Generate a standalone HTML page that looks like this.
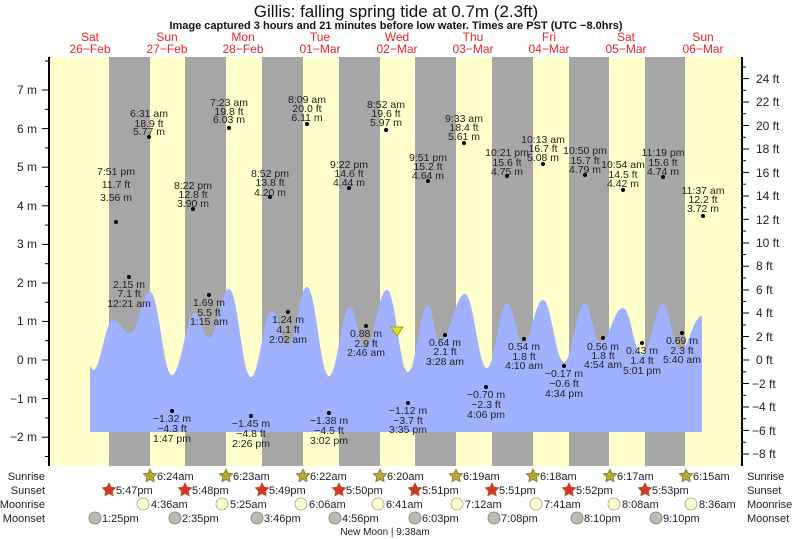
<!DOCTYPE html>
<html><head><meta charset="utf-8"><style>
html,body{margin:0;padding:0;background:#fff;}
svg{display:block;font-family:"Liberation Sans",sans-serif;}
</style></head><body>
<svg width="793" height="539" viewBox="0 0 793 539" xmlns="http://www.w3.org/2000/svg">
<text x="396" y="17" font-size="17" text-anchor="middle" fill="#111">Gillis: falling  spring tide at 0.7m (2.3ft)</text>
<text x="396" y="29" font-size="11" font-weight="bold" text-anchor="middle" fill="#111">Image captured 3 hours and 21 minutes before low water. Times are PST (UTC −8.0hrs)</text>
<g font-size="12" fill="#ee2222" text-anchor="middle">
<text x="90" y="41">Sat</text><text x="90" y="53">26−Feb</text>
<text x="167" y="41">Sun</text><text x="167" y="53">27−Feb</text>
<text x="243" y="41">Mon</text><text x="243" y="53">28−Feb</text>
<text x="320" y="41">Tue</text><text x="320" y="53">01−Mar</text>
<text x="397" y="41">Wed</text><text x="397" y="53">02−Mar</text>
<text x="473" y="41">Thu</text><text x="473" y="53">03−Mar</text>
<text x="549" y="41">Fri</text><text x="549" y="53">04−Mar</text>
<text x="626" y="41">Sat</text><text x="626" y="53">05−Mar</text>
<text x="703" y="41">Sun</text><text x="703" y="53">06−Mar</text>
</g>
<rect x="49" y="57" width="693" height="409" fill="#ffffcc"/>
<g fill="#a6a6a6">
<rect x="109" y="57" width="41" height="409"/><rect x="185" y="57" width="41" height="409"/>
<rect x="262" y="57" width="41" height="409"/><rect x="339" y="57" width="41" height="409"/>
<rect x="415" y="57" width="41" height="409"/><rect x="492" y="57" width="41" height="409"/>
<rect x="569" y="57" width="40" height="409"/><rect x="645" y="57" width="40" height="409"/>
</g>
<path fill="#a0b2ff" d="M90,366 L93,370 C101,370 105,320 113,320 C119.8,320 123.2,333 130,333 C138,333 142,292 150,292 C158.8,292 163.2,375 172,375 C181.2,375 185.8,313 195,313 C200.6,313 203.4,338 209,338 C217,338 221,289 229,289 C237.8,289 242.2,377 251,377 C259.4,377 263.6,311 272,311 C278.4,311 281.6,345 288,345 C295.6,345 299.4,287 307,287 C315.8,287 320.2,376 329,376 C337.4,376 341.6,307 350,307 C356,307 359,348 365,348 C373.8,348 378.2,290 387,290 C395.4,290 399.6,372 408,372 C416,372 420,305 428,305 C432.8,305 435.2,342 440,342 C450,342 455,294 465,294 C473.8,294 478.2,368 487,368 C495,368 499,303 507,303 C513.4,303 516.6,343 523,343 C531,343 535,300 543,300 C551.4,300 555.6,362 564,362 C572.4,362 576.6,303 585,303 C591,303 594,342 600,342 C609.2,342 613.8,308 623,308 C630.6,308 634.4,355 642,355 C650.4,355 654.6,304 663,304 C669.8,304 673.2,350 680,350 C688.8,350 693.2,316 702,316 L702,432 L90,432 Z"/>
<polygon points="391,327 403,327 397,336" fill="#dddd22" stroke="#999900" stroke-width="0.8"/>
<g stroke="#000">
<line x1="49" y1="57" x2="49" y2="466" stroke-width="2"/>
<line x1="742" y1="57" x2="742" y2="466" stroke-width="2"/>
<line x1="42" y1="90" x2="49" y2="90"/><line x1="42" y1="128.6" x2="49" y2="128.6"/><line x1="42" y1="167.2" x2="49" y2="167.2"/><line x1="42" y1="205.8" x2="49" y2="205.8"/><line x1="42" y1="244.4" x2="49" y2="244.4"/><line x1="42" y1="283" x2="49" y2="283"/><line x1="42" y1="321.4" x2="49" y2="321.4"/><line x1="42" y1="360" x2="49" y2="360"/><line x1="42" y1="398.6" x2="49" y2="398.6"/><line x1="42" y1="437.2" x2="49" y2="437.2"/>
<line x1="45" y1="61" x2="49" y2="61"/><line x1="45" y1="109.3" x2="49" y2="109.3"/><line x1="45" y1="147.9" x2="49" y2="147.9"/><line x1="45" y1="186.5" x2="49" y2="186.5"/><line x1="45" y1="225.1" x2="49" y2="225.1"/><line x1="45" y1="263.7" x2="49" y2="263.7"/><line x1="45" y1="302.2" x2="49" y2="302.2"/><line x1="45" y1="340.7" x2="49" y2="340.7"/><line x1="45" y1="379.3" x2="49" y2="379.3"/><line x1="45" y1="417.9" x2="49" y2="417.9"/><line x1="45" y1="456.5" x2="49" y2="456.5"/>
<line x1="742" y1="78.6" x2="749" y2="78.6"/><line x1="742" y1="102" x2="749" y2="102"/><line x1="742" y1="125.5" x2="749" y2="125.5"/><line x1="742" y1="149" x2="749" y2="149"/><line x1="742" y1="172.4" x2="749" y2="172.4"/><line x1="742" y1="196" x2="749" y2="196"/><line x1="742" y1="219.3" x2="749" y2="219.3"/><line x1="742" y1="243" x2="749" y2="243"/><line x1="742" y1="266.2" x2="749" y2="266.2"/><line x1="742" y1="290" x2="749" y2="290"/><line x1="742" y1="313" x2="749" y2="313"/><line x1="742" y1="336.5" x2="749" y2="336.5"/><line x1="742" y1="360" x2="749" y2="360"/><line x1="742" y1="383.5" x2="749" y2="383.5"/><line x1="742" y1="407" x2="749" y2="407"/><line x1="742" y1="430.4" x2="749" y2="430.4"/><line x1="742" y1="454" x2="749" y2="454"/>
<line x1="742" y1="67" x2="746" y2="67"/><line x1="742" y1="90.3" x2="746" y2="90.3"/><line x1="742" y1="113.8" x2="746" y2="113.8"/><line x1="742" y1="137.3" x2="746" y2="137.3"/><line x1="742" y1="160.7" x2="746" y2="160.7"/><line x1="742" y1="184.2" x2="746" y2="184.2"/><line x1="742" y1="207.7" x2="746" y2="207.7"/><line x1="742" y1="231.1" x2="746" y2="231.1"/><line x1="742" y1="254.6" x2="746" y2="254.6"/><line x1="742" y1="278" x2="746" y2="278"/><line x1="742" y1="301.5" x2="746" y2="301.5"/><line x1="742" y1="325" x2="746" y2="325"/><line x1="742" y1="348.3" x2="746" y2="348.3"/><line x1="742" y1="371.8" x2="746" y2="371.8"/><line x1="742" y1="395.3" x2="746" y2="395.3"/><line x1="742" y1="418.7" x2="746" y2="418.7"/><line x1="742" y1="442.2" x2="746" y2="442.2"/>
</g>
<g font-size="12" fill="#222" text-anchor="end">
<text x="37" y="94">7 m</text><text x="37" y="133">6 m</text><text x="37" y="171">5 m</text><text x="37" y="210">4 m</text><text x="37" y="248">3 m</text><text x="37" y="287">2 m</text><text x="37" y="325">1 m</text><text x="37" y="364">0 m</text><text x="37" y="403">−1 m</text><text x="37" y="441">−2 m</text>
</g>
<g font-size="12" fill="#222">
<text x="756" y="83">24 ft</text><text x="756" y="106">22 ft</text><text x="756" y="130">20 ft</text><text x="756" y="153">18 ft</text><text x="756" y="177">16 ft</text><text x="756" y="200">14 ft</text><text x="756" y="224">12 ft</text><text x="756" y="247">10 ft</text><text x="756" y="270">8 ft</text><text x="756" y="294">6 ft</text><text x="756" y="317">4 ft</text><text x="756" y="341">2 ft</text><text x="756" y="364">0 ft</text><text x="752" y="388">−2 ft</text><text x="752" y="411">−4 ft</text><text x="752" y="435">−6 ft</text><text x="752" y="458">−8 ft</text>
</g>
<g fill="#000">
<circle cx="116" cy="222" r="2"/><circle cx="149" cy="137" r="2"/><circle cx="229" cy="128" r="2"/><circle cx="307" cy="124" r="2"/><circle cx="386" cy="130" r="2"/><circle cx="464" cy="143" r="2"/><circle cx="543" cy="164" r="2"/><circle cx="623" cy="190" r="2"/><circle cx="703" cy="216" r="2"/>
<circle cx="193" cy="209" r="2"/><circle cx="270" cy="197" r="2"/><circle cx="349" cy="188" r="2"/><circle cx="428" cy="181" r="2"/><circle cx="507" cy="176" r="2"/><circle cx="585" cy="175" r="2"/><circle cx="663" cy="177" r="2"/>
<circle cx="129" cy="277" r="2"/><circle cx="209" cy="295" r="2"/><circle cx="288" cy="312" r="2"/><circle cx="366" cy="326" r="2"/><circle cx="445" cy="335" r="2"/><circle cx="524" cy="339" r="2"/><circle cx="603" cy="338" r="2"/><circle cx="682" cy="333" r="2"/><circle cx="642" cy="343" r="2"/>
<circle cx="564" cy="366" r="2"/><circle cx="486" cy="387" r="2"/><circle cx="408" cy="403" r="2"/><circle cx="329" cy="413" r="2"/><circle cx="251" cy="416" r="2"/><circle cx="172" cy="411" r="2"/>
</g>
<g font-size="10.5" fill="#222" text-anchor="middle">
<text x="116" y="175">7:51 pm</text><text x="116" y="188">11.7 ft</text><text x="116" y="201">3.56 m</text>
<text x="149" y="117">6:31 am</text><text x="149" y="127">18.9 ft</text><text x="149" y="135">5.77 m</text>
<text x="229" y="106">7:23 am</text><text x="229" y="115">19.8 ft</text><text x="229" y="123">6.03 m</text>
<text x="307" y="103">8:09 am</text><text x="307" y="112">20.0 ft</text><text x="307" y="121">6.11 m</text>
<text x="386" y="108">8:52 am</text><text x="386" y="117">19.6 ft</text><text x="386" y="126">5.97 m</text>
<text x="464" y="122">9:33 am</text><text x="464" y="131">18.4 ft</text><text x="464" y="140">5.61 m</text>
<text x="543" y="143">10:13 am</text><text x="543" y="152">16.7 ft</text><text x="543" y="161">5.08 m</text>
<text x="623" y="168">10:54 am</text><text x="623" y="178">14.5 ft</text><text x="623" y="187">4.42 m</text>
<text x="703" y="194">11:37 am</text><text x="703" y="203">12.2 ft</text><text x="703" y="212">3.72 m</text>
<text x="193" y="189">8:22 pm</text><text x="193" y="198">12.8 ft</text><text x="193" y="207">3.90 m</text>
<text x="270" y="177">8:52 pm</text><text x="270" y="186">13.8 ft</text><text x="270" y="196">4.20 m</text>
<text x="349" y="168">9:22 pm</text><text x="349" y="177">14.6 ft</text><text x="349" y="186">4.44 m</text>
<text x="428" y="161">9:51 pm</text><text x="428" y="170">15.2 ft</text><text x="428" y="179">4.64 m</text>
<text x="507" y="156">10:21 pm</text><text x="507" y="166">15.6 ft</text><text x="507" y="175">4.75 m</text>
<text x="585" y="154">10:50 pm</text><text x="585" y="164">15.7 ft</text><text x="585" y="173">4.79 m</text>
<text x="663" y="156">11:19 pm</text><text x="663" y="166">15.6 ft</text><text x="663" y="175">4.74 m</text>
<text x="129" y="288">2.15 m</text><text x="129" y="297">7.1 ft</text><text x="129" y="307">12:21 am</text>
<text x="209" y="306">1.69 m</text><text x="209" y="316">5.5 ft</text><text x="209" y="325">1:15 am</text>
<text x="288" y="323">1.24 m</text><text x="288" y="333">4.1 ft</text><text x="288" y="343">2:02 am</text>
<text x="366" y="337">0.88 m</text><text x="366" y="347">2.9 ft</text><text x="366" y="356">2:46 am</text>
<text x="445" y="346">0.64 m</text><text x="445" y="355">2.1 ft</text><text x="445" y="365">3:28 am</text>
<text x="524" y="350">0.54 m</text><text x="524" y="360">1.8 ft</text><text x="524" y="369">4:10 am</text>
<text x="603" y="350">0.56 m</text><text x="603" y="359">1.8 ft</text><text x="603" y="368">4:54 am</text>
<text x="682" y="344">0.69 m</text><text x="682" y="354">2.3 ft</text><text x="682" y="363">5:40 am</text>
<text x="642" y="354">0.43 m</text><text x="642" y="364">1.4 ft</text><text x="642" y="374">5:01 pm</text>
<text x="564" y="377">−0.17 m</text><text x="564" y="387">−0.6 ft</text><text x="564" y="397">4:34 pm</text>
<text x="486" y="398">−0.70 m</text><text x="486" y="408">−2.3 ft</text><text x="486" y="418">4:06 pm</text>
<text x="408" y="414">−1.12 m</text><text x="408" y="424">−3.7 ft</text><text x="408" y="433">3:35 pm</text>
<text x="329" y="424">−1.38 m</text><text x="329" y="434">−4.5 ft</text><text x="329" y="444">3:02 pm</text>
<text x="251" y="427">−1.45 m</text><text x="251" y="437">−4.8 ft</text><text x="251" y="447">2:26 pm</text>
<text x="172" y="422">−1.32 m</text><text x="172" y="432">−4.3 ft</text><text x="172" y="442">1:47 pm</text>
</g>
<g font-size="11" fill="#222" text-anchor="end">
<text x="45" y="480">Sunrise</text><text x="45" y="494">Sunset</text><text x="45" y="508">Moonrise</text><text x="45" y="522">Moonset</text>
</g>
<g font-size="11" fill="#222">
<text x="747" y="480">Sunrise</text><text x="747" y="494">Sunset</text><text x="747" y="508">Moonrise</text><text x="747" y="522">Moonset</text>
</g>
<g fill="#b5a83a" stroke="#857a2a" stroke-width="0.8">
<polygon transform="translate(150,476)" points="0,-7 2.06,-2.83 6.66,-2.16 3.33,1.08 4.11,5.66 0,3.5 -4.11,5.66 -3.33,1.08 -6.66,-2.16 -2.06,-2.83"/>
<polygon transform="translate(226,476)" points="0,-7 2.06,-2.83 6.66,-2.16 3.33,1.08 4.11,5.66 0,3.5 -4.11,5.66 -3.33,1.08 -6.66,-2.16 -2.06,-2.83"/>
<polygon transform="translate(303,476)" points="0,-7 2.06,-2.83 6.66,-2.16 3.33,1.08 4.11,5.66 0,3.5 -4.11,5.66 -3.33,1.08 -6.66,-2.16 -2.06,-2.83"/>
<polygon transform="translate(380,476)" points="0,-7 2.06,-2.83 6.66,-2.16 3.33,1.08 4.11,5.66 0,3.5 -4.11,5.66 -3.33,1.08 -6.66,-2.16 -2.06,-2.83"/>
<polygon transform="translate(456,476)" points="0,-7 2.06,-2.83 6.66,-2.16 3.33,1.08 4.11,5.66 0,3.5 -4.11,5.66 -3.33,1.08 -6.66,-2.16 -2.06,-2.83"/>
<polygon transform="translate(533,476)" points="0,-7 2.06,-2.83 6.66,-2.16 3.33,1.08 4.11,5.66 0,3.5 -4.11,5.66 -3.33,1.08 -6.66,-2.16 -2.06,-2.83"/>
<polygon transform="translate(610,476)" points="0,-7 2.06,-2.83 6.66,-2.16 3.33,1.08 4.11,5.66 0,3.5 -4.11,5.66 -3.33,1.08 -6.66,-2.16 -2.06,-2.83"/>
<polygon transform="translate(686,476)" points="0,-7 2.06,-2.83 6.66,-2.16 3.33,1.08 4.11,5.66 0,3.5 -4.11,5.66 -3.33,1.08 -6.66,-2.16 -2.06,-2.83"/>
</g>
<g fill="#dd3322" stroke="#aa5522" stroke-width="0.8">
<polygon transform="translate(109,490)" points="0,-7 2.06,-2.83 6.66,-2.16 3.33,1.08 4.11,5.66 0,3.5 -4.11,5.66 -3.33,1.08 -6.66,-2.16 -2.06,-2.83"/>
<polygon transform="translate(185,490)" points="0,-7 2.06,-2.83 6.66,-2.16 3.33,1.08 4.11,5.66 0,3.5 -4.11,5.66 -3.33,1.08 -6.66,-2.16 -2.06,-2.83"/>
<polygon transform="translate(262,490)" points="0,-7 2.06,-2.83 6.66,-2.16 3.33,1.08 4.11,5.66 0,3.5 -4.11,5.66 -3.33,1.08 -6.66,-2.16 -2.06,-2.83"/>
<polygon transform="translate(339,490)" points="0,-7 2.06,-2.83 6.66,-2.16 3.33,1.08 4.11,5.66 0,3.5 -4.11,5.66 -3.33,1.08 -6.66,-2.16 -2.06,-2.83"/>
<polygon transform="translate(415,490)" points="0,-7 2.06,-2.83 6.66,-2.16 3.33,1.08 4.11,5.66 0,3.5 -4.11,5.66 -3.33,1.08 -6.66,-2.16 -2.06,-2.83"/>
<polygon transform="translate(492,490)" points="0,-7 2.06,-2.83 6.66,-2.16 3.33,1.08 4.11,5.66 0,3.5 -4.11,5.66 -3.33,1.08 -6.66,-2.16 -2.06,-2.83"/>
<polygon transform="translate(569,490)" points="0,-7 2.06,-2.83 6.66,-2.16 3.33,1.08 4.11,5.66 0,3.5 -4.11,5.66 -3.33,1.08 -6.66,-2.16 -2.06,-2.83"/>
<polygon transform="translate(645,490)" points="0,-7 2.06,-2.83 6.66,-2.16 3.33,1.08 4.11,5.66 0,3.5 -4.11,5.66 -3.33,1.08 -6.66,-2.16 -2.06,-2.83"/>
</g>
<g fill="#ffffcc" stroke="#999" stroke-width="0.8">
<circle cx="143" cy="504" r="6"/><circle cx="222" cy="504" r="6"/><circle cx="301" cy="504" r="6"/><circle cx="378" cy="504" r="6"/><circle cx="457" cy="504" r="6"/><circle cx="536" cy="504" r="6"/><circle cx="614" cy="504" r="6"/><circle cx="691" cy="504" r="6"/>
</g>
<g fill="#bbbbb0" stroke="#777" stroke-width="0.8">
<circle cx="95" cy="518" r="6"/><circle cx="175" cy="518" r="6"/><circle cx="257" cy="518" r="6"/><circle cx="335" cy="518" r="6"/><circle cx="415" cy="518" r="6"/><circle cx="494" cy="518" r="6"/><circle cx="577" cy="518" r="6"/><circle cx="656" cy="518" r="6"/>
</g>
<g font-size="11" fill="#222">
<text x="157" y="480">6:24am</text><text x="233" y="480">6:23am</text><text x="310" y="480">6:22am</text><text x="387" y="480">6:20am</text><text x="463" y="480">6:19am</text><text x="540" y="480">6:18am</text><text x="617" y="480">6:17am</text><text x="693" y="480">6:15am</text>
<text x="116" y="494">5:47pm</text><text x="192" y="494">5:48pm</text><text x="269" y="494">5:49pm</text><text x="346" y="494">5:50pm</text><text x="422" y="494">5:51pm</text><text x="499" y="494">5:51pm</text><text x="576" y="494">5:52pm</text><text x="652" y="494">5:53pm</text>
<text x="151" y="508">4:36am</text><text x="230" y="508">5:25am</text><text x="309" y="508">6:06am</text><text x="386" y="508">6:41am</text><text x="465" y="508">7:12am</text><text x="544" y="508">7:41am</text><text x="622" y="508">8:08am</text><text x="699" y="508">8:36am</text>
<text x="102" y="522">1:25pm</text><text x="182" y="522">2:35pm</text><text x="264" y="522">3:46pm</text><text x="342" y="522">4:56pm</text><text x="422" y="522">6:03pm</text><text x="501" y="522">7:08pm</text><text x="584" y="522">8:10pm</text><text x="663" y="522">9:10pm</text>
<text x="385" y="535" font-size="10" text-anchor="middle">New Moon | 9:38am</text>
</g>
</svg>
</body></html>
